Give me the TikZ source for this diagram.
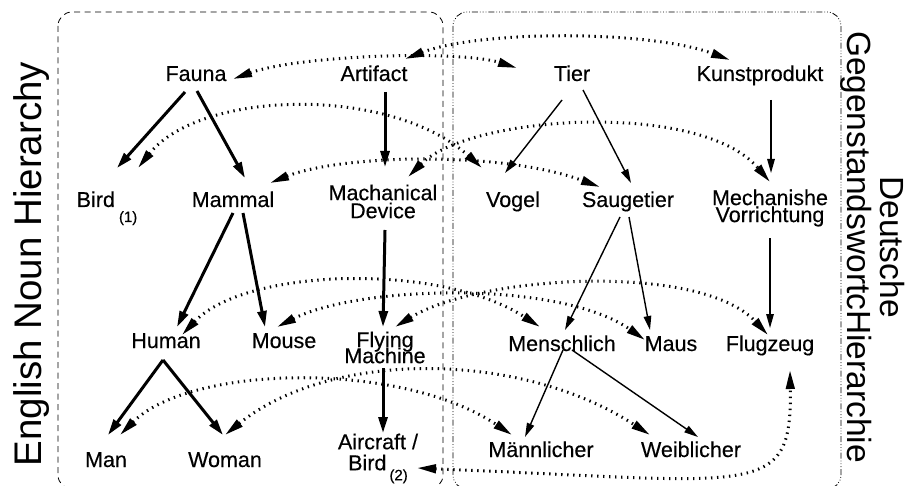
\documentclass[tikz,border=0pt]{standalone}
\usepackage{fontspec}
\setmainfont{Liberation Sans}
\newfontfamily\labelfont{Liberation Sans}[FakeBold=0.35]
\usetikzlibrary{arrows.meta,calc}
\newcommand\tightlines{\setlength{\lineskiplimit}{-30pt}}
\begin{document}
\begin{tikzpicture}[x=1pt,y=-1pt,
  word/.style={font=\labelfont\fontsize{21.5}{18}\selectfont, inner sep=0pt, anchor=base},
  words/.style={font={\labelfont\fontsize{21.5}{#1}\selectfont\tightlines}, inner sep=0pt, align=center},
  en/.style={line width=3pt, -{Triangle[length=16pt,width=9pt]}},
  de/.style={line width=1.4pt, -{Triangle[length=14pt,width=7.5pt]}},
  map/.style={line width=3pt, dash pattern=on 1.4pt off 4.6pt,
    {Triangle[length=19pt,width=8.5pt]}-{Triangle[length=19pt,width=8.5pt]}},
  enbox/.style={line width=0.8pt, dash pattern=on 6pt off 4.5pt, rounded corners=14pt},
  debox/.style={line width=0.8pt, rounded corners=14pt,
    dash pattern=on 6pt off 2pt on 0.8pt off 2pt on 0.8pt off 2pt on 0.8pt off 2pt},
]
\useasboundingbox (0,0) rectangle (909,486);

% the two language frames
\draw[enbox] (58,12) rectangle (443,489);
\draw[debox] (453,12) rectangle (841,489);

% side titles
\node[rotate=90, inner sep=0pt, font=\fontsize{38.5}{40}\selectfont] (entitle) at (32,264) {English Noun Hierarchy};
\node[rotate=-90, inner sep=0pt, align=center, font={\fontsize{33.5}{33}\selectfont\tightlines}] (detitle) at (873,247) {Deutsche\\GegenstandswortcHierarchie};

% English hierarchy
\node[word] (Fauna) at (196,81) {Fauna};
\node[word] (Artifact) at (374,81) {Artifact};
\node[word] (Bird1) at (107,207) {Bird\hspace{4pt}\raisebox{-15pt}{\fontsize{15}{14}\selectfont(1)}};
\node[word] (Mammal) at (233,207) {Mammal};
\node[words=18] (MachDev) at (383,201.5) {Machanical\\Device};
\node[word] (Human) at (166,348) {Human};
\node[word] (Mouse) at (284,348) {Mouse};
\node[words=16] (FlyMach) at (385,347.5) {Flying\\Machine};
\node[word] (Man) at (106,467) {Man};
\node[word] (Woman) at (225,467) {Woman};
\node[words=21] (Aircraft) at (378,458.5) {Aircraft /\\Bird\hspace{3pt}\raisebox{-10pt}{\fontsize{15}{14}\selectfont(2)}};

% German hierarchy
\node[word] (Tier) at (572,81) {Tier};
\node[word] (Kunst) at (760,81) {Kunstprodukt};
\node[word] (Vogel) at (513,207) {Vogel};
\node[word] (Saug) at (628,207) {Saugetier};
\node[words=17] (MechVor) at (770,208) {Mechanishe\\Vorrichtung};
\node[word] (Mensch) at (562,351) {Menschlich};
\node[word] (Maus) at (671,351) {Maus};
\node[word] (Flug) at (770,351) {Flugzeug};
\node[word] (Maenn) at (541,457) {Männlicher};
\node[word] (Weib) at (691,457) {Weiblicher};

% English is-a links
\draw[en] ($(Fauna.base)+(-11,11)$) -- ($(Bird1.base)+(10,-39)$);
\draw[en] ($(Fauna.base)+(1,10)$) -- ($(Mammal.base)+(12,-29)$);
\draw[en] ($(Artifact.base)+(11,11)$) -- ($(MachDev.center)+(2,-34.5)$);
\draw[en] ($(Mammal.base)+(0,6)$) -- ($(Human.base)+(11,-21)$);
\draw[en] ($(Mammal.base)+(10,6)$) -- ($(Mouse.base)+(-19,-21)$);
\draw[en] ($(MachDev.center)+(2,28.5)$) -- ($(FlyMach.center)+(-2,-20.5)$);
\draw[en] ($(Human.base)+(-3,12)$) -- ($(Man.base)+(2,-32)$);
\draw[en] ($(Human.base)+(-3,12)$) -- ($(Woman.base)+(-2,-32)$);
\draw[en] ($(FlyMach.center)+(-2,20.5)$) -- ($(Aircraft.center)+(5,-25.5)$);

% German is-a links
\draw[de] ($(Tier.base)+(-10,19)$) -- ($(Vogel.base)+(-8,-34)$);
\draw[de] ($(Tier.base)+(11,9)$) -- ($(Saug.base)+(3,-24)$);
\draw[de] ($(Kunst.base)+(11,19)$) -- ($(MechVor.center)+(1,-35)$);
\draw[de] ($(Saug.base)+(-8,10)$) -- ($(Mensch.base)+(3,-21)$);
\draw[de] ($(Saug.base)+(1,10)$) -- ($(Maus.base)+(-21,-21)$);
\draw[de] ($(MechVor.center)+(0,30)$) -- ($(Flug.base)+(0,-23)$);
\draw[de] ($(Mensch.base)+(1,-1)$) -- ($(Maenn.base)+(-16,-20)$);
\draw[de] ($(Mensch.base)+(10,-1)$) -- ($(Weib.base)+(7,-20)$);

% cross-language correspondences
\draw[map] ($(Fauna.base)+(37,-2)$) .. controls +(67,-24) and +(-57,-18) .. ($(Tier.base)+(-55,-13)$);
\draw[map] ($(Artifact.base)+(31,-22)$) .. controls +(75,-29) and +(-80,-30) .. ($(Kunst.base)+(-30,-21)$);
\draw[map] ($(Bird1.base)+(31,-39)$) .. controls +(62,-78) and +(-92,-83) .. ($(Vogel.base)+(-31,-39)$);
\draw[map] ($(Mammal.base)+(37,-24)$) .. controls +(70,-28) and +(-100,-37) .. ($(Saug.base)+(-28,-20)$);
\draw[map] ($(MachDev.center)+(25,-24.5)$) .. controls +(62,-62) and +(-70,-82) .. ($(MechVor.center)+(0,-26)$);
\draw[map] ($(Human.base)+(16,-13)$) .. controls +(63,-67) and +(-100,-65) .. ($(Mensch.base)+(-22,-24)$);
\draw[map] ($(Mouse.base)+(-7,-21)$) .. controls +(83,-42) and +(-85,-60) .. ($(Maus.base)+(-26,-11)$);
\draw[map] ($(FlyMach.center)+(10,-20.5)$) .. controls +(85,-52) and +(-68,-73) .. ($(Flug.base)+(-2,-16)$);
\draw[map] ($(Man.base)+(14,-32)$) .. controls +(70,-70) and +(-112,-75) .. ($(Maenn.base)+(-29,-22)$);
\draw[map] ($(Woman.base)+(0,-32)$) .. controls +(105,-85) and +(-130,-85) .. ($(Weib.base)+(-41,-22)$);
\draw[map] ($(Aircraft.center)+(39,9.5)$) .. controls +(343,14) and +(2,130) .. ($(Flug.base)+(20,19)$);
\end{tikzpicture}
\end{document}
